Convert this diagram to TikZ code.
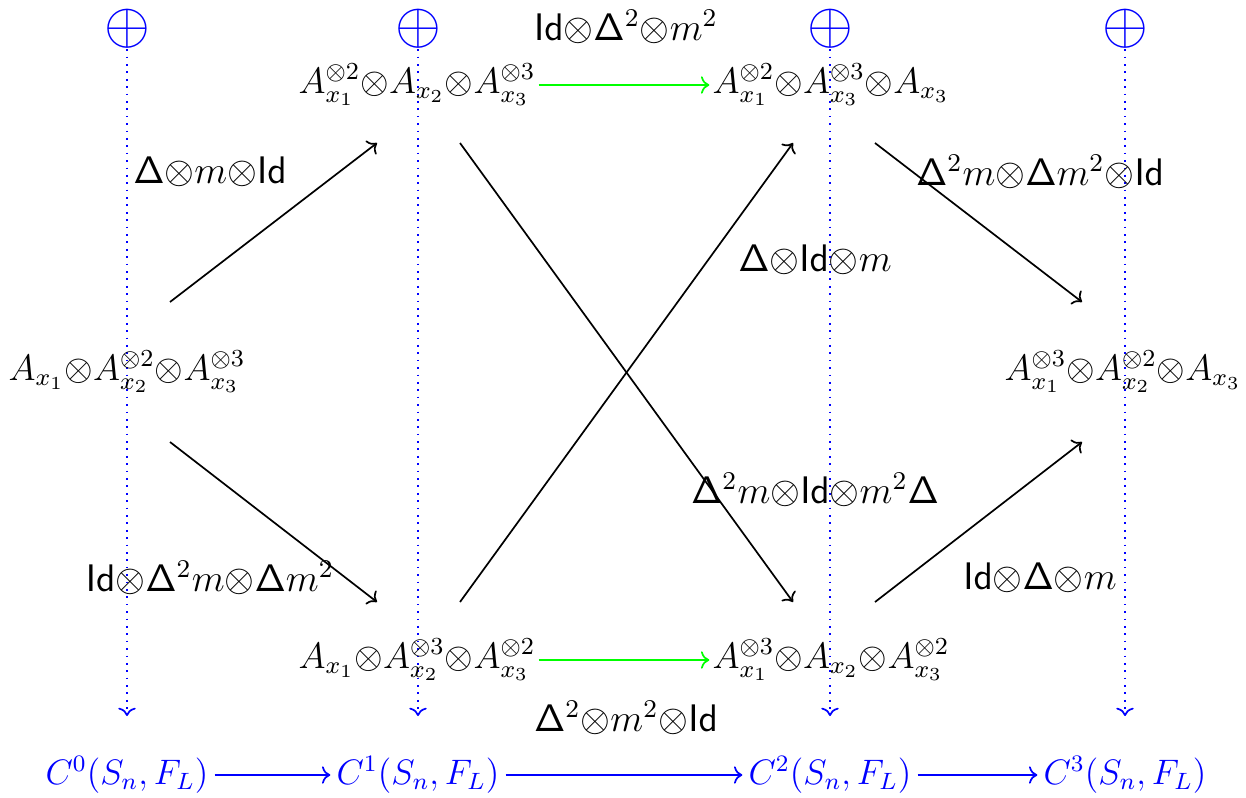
\documentclass[tikz,border=0pt]{standalone}
\usepackage{amsmath}
\usepackage{amssymb}
\usetikzlibrary{arrows.meta,positioning,calc}

\newcommand{\Ids}{\mathsf{Id}}
\newcommand{\Dls}{\mathsf{\Delta}}
\newcommand{\termtxt}[1]{\scalebox{1.077}{$#1$}}
\newcommand{\labtxt}[1]{\scalebox{1.125}{$#1$}}
\newcommand{\cplxtxt}[1]{\scalebox{1.038}{$#1$}}

\begin{document}
\begin{tikzpicture}[x=0.01236cm, y=-0.01236cm,
	term/.style={inner sep=1pt, font=\large},
	lab/.style={inner sep=1pt, font=\large},
	cplx/.style={inner sep=2pt, text=blue, font=\large},
	sumsign/.style={inner sep=0pt, text=blue, font=\huge},
	mainarrow/.style={->, line width=0.6pt, color=black},
	greenarrow/.style={->, line width=0.6pt, color=green},
	colarrow/.style={->, dotted, line width=0.6pt, color=blue},
	cplxarrow/.style={->, line width=0.6pt, color=blue}
	]
	\useasboundingbox (0,0) rectangle (1246,797);

	% direct sum columns
	\node[sumsign] (O0) at (127,29) {$\oplus$};
	\node[sumsign] (O1) at (418,29) {$\oplus$};
	\node[sumsign] (O2) at (830,29) {$\oplus$};
	\node[sumsign] (O3) at (1125,29) {$\oplus$};
	\coordinate (E0) at (127,716);
	\coordinate (E1) at (418,716);
	\coordinate (E2) at (830,716);
	\coordinate (E3) at (1125,716);
	\draw[colarrow] (O0) -- (E0);
	\draw[colarrow] (O1) -- (E1);
	\draw[colarrow] (O2) -- (E2);
	\draw[colarrow] (O3) -- (E3);

	% tensor products
	\node[term] (L) at (127,372) {\termtxt{A_{x_1}{\otimes}A_{x_2}^{\otimes 2}{\otimes}A_{x_3}^{\otimes 3}}};
	\node[term] (TL) at (417,85) {\termtxt{A_{x_1}^{\otimes 2}{\otimes}A_{x_2}{\otimes}A_{x_3}^{\otimes 3}}};
	\node[term] (BL) at (417,660) {\termtxt{A_{x_1}{\otimes}A_{x_2}^{\otimes 3}{\otimes}A_{x_3}^{\otimes 2}}};
	\node[term] (TR) at (831,85) {\termtxt{A_{x_1}^{\otimes 2}{\otimes}A_{x_3}^{\otimes 3}{\otimes}A_{x_3}}};
	\node[term] (BR) at (831,660) {\termtxt{A_{x_1}^{\otimes 3}{\otimes}A_{x_2}{\otimes}A_{x_3}^{\otimes 2}}};
	\node[term] (R) at (1123,372) {\termtxt{A_{x_1}^{\otimes 3}{\otimes}A_{x_2}^{\otimes 2}{\otimes}A_{x_3}}};

	% maps
	\draw[mainarrow] ($(L)+(43,-70)$) -- ($(TL)+(-40,58)$);
	\draw[mainarrow] ($(L)+(43,70)$) -- ($(BL)+(-40,-58)$);
	\draw[mainarrow] ($(TL)+(43,58)$) -- ($(BR)+(-38,-58)$);
	\draw[mainarrow] ($(BL)+(43,-58)$) -- ($(TR)+(-38,58)$);
	\draw[mainarrow] ($(TR)+(44,58)$) -- ($(R)+(-41,-70)$);
	\draw[mainarrow] ($(BR)+(44,-58)$) -- ($(R)+(-41,70)$);
	\draw[greenarrow] (TL.east) -- (TR.west);
	\draw[greenarrow] (BL.east) -- (BR.west);

	\node[lab] (a1) at (210,172) {\labtxt{\Dls{\otimes}m{\otimes}\Ids}};
	\node[lab] (a2) at (210,578) {\labtxt{\Ids{\otimes}\Dls^2m{\otimes}\Dls m^2}};
	\node[lab] (a3) at (626,27) {\labtxt{\Ids{\otimes}\Dls^2{\otimes}m^2}};
	\node[lab] (a4) at (626,718) {\labtxt{\Dls^2{\otimes}m^2{\otimes}\Ids}};
	\node[lab] (a5) at (815,260) {\labtxt{\Dls{\otimes}\Ids{\otimes}m}};
	\node[lab] (a6) at (815,490) {\labtxt{\Dls^2m{\otimes}\Ids{\otimes}m^2\Dls}};
	\node[lab] (a7) at (1040,172) {\labtxt{\Dls^2m{\otimes}\Dls m^2{\otimes}\Ids}};
	\node[lab] (a8) at (1040,578) {\labtxt{\Ids{\otimes}\Dls{\otimes}m}};

	% cochain complex
	\node[cplx] (C0) at (127,775) {\cplxtxt{C^0(S_n,F_L)}};
	\node[cplx] (C1) at (418,775) {\cplxtxt{C^1(S_n,F_L)}};
	\node[cplx] (C2) at (830,775) {\cplxtxt{C^2(S_n,F_L)}};
	\node[cplx] (C3) at (1125,775) {\cplxtxt{C^3(S_n,F_L)}};
	\draw[cplxarrow] (C0) -- (C1);
	\draw[cplxarrow] (C1) -- (C2);
	\draw[cplxarrow] (C2) -- (C3);

\end{tikzpicture}
\end{document}
